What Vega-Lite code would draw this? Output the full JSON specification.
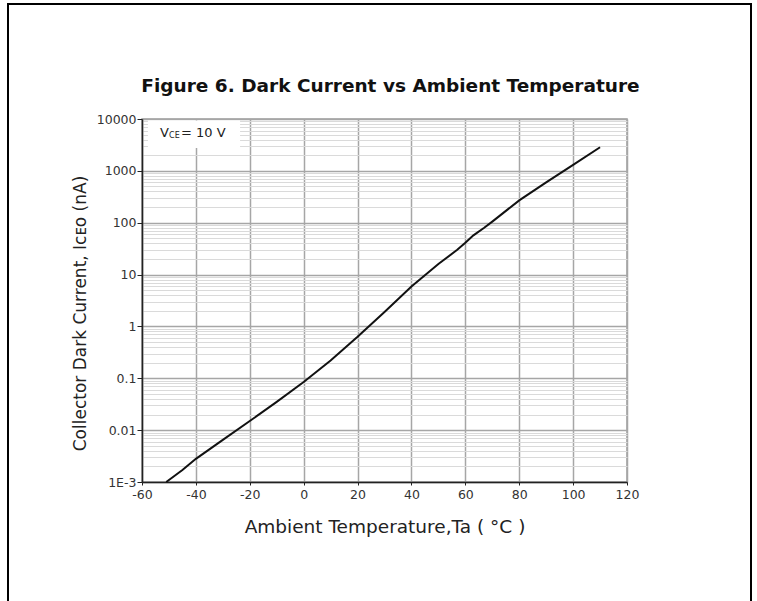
{
  "$schema": "https://vega.github.io/schema/vega-lite/v6.json",
  "autosize": {"type": "none"},
  "padding": {"left": 142, "top": 119, "right": 130, "bottom": 119},
  "width": 485,
  "height": 363,
  "background": "white",
  "title": {
    "text": "Figure 6. Dark Current vs Ambient Temperature",
    "font": "DejaVu Sans",
    "fontSize": 18.5,
    "fontWeight": "bold",
    "color": "#111111",
    "anchor": "middle",
    "frame": "group",
    "baseline": "alphabetic",
    "offset": 0,
    "dy": 107,
    "dx": 6
  },
  "datasets": {
    "curve": [
      {"t": -51, "i": 0.001},
      {"t": -45, "i": 0.0017},
      {"t": -40, "i": 0.0028},
      {"t": -30, "i": 0.0065},
      {"t": -20, "i": 0.015},
      {"t": -10, "i": 0.035},
      {"t": 0, "i": 0.085},
      {"t": 10, "i": 0.22},
      {"t": 20, "i": 0.63},
      {"t": 30, "i": 1.9},
      {"t": 40, "i": 5.9},
      {"t": 50, "i": 16},
      {"t": 57, "i": 30},
      {"t": 60, "i": 41},
      {"t": 63, "i": 57},
      {"t": 67, "i": 80},
      {"t": 70, "i": 105},
      {"t": 80, "i": 270},
      {"t": 90, "i": 600},
      {"t": 100, "i": 1300},
      {"t": 110, "i": 2850}
    ],
    "box": [
      {"t": -57.8, "t2": -23.6, "i": 2750, "i2": 9400}
    ],
    "noteV": [{"t": -53.3, "i": 5300, "label": "V"}],
    "noteCE": [{"t": -53.3, "i": 5300, "label": "CE"}],
    "noteRest": [{"t": -53.3, "i": 5300, "label": "= 10 V"}],
    "frame": [{"f0": 0, "f1": 1}]
  },
  "layer": [
    {
      "data": {"name": "frame"},
      "mark": {"type": "rect", "fill": null, "stroke": "black", "strokeWidth": 2},
      "encoding": {
        "x": {"field": "f0", "type": "quantitative", "scale": {"domain": [0, 1], "range": [-134, 609]}, "axis": null},
        "x2": {"field": "f1"},
        "y": {"field": "f0", "type": "quantitative", "scale": {"domain": [0, 1], "range": [490, -115]}, "axis": null},
        "y2": {"field": "f1"}
      }
    },
    {
      "encoding": {
        "x": {
          "field": "t",
          "type": "quantitative",
          "scale": {"domain": [-60, 120], "nice": false, "zero": false},
          "axis": {
            "values": [-60, -40, -20, 0, 20, 40, 60, 80, 100, 120],
            "labelExpr": "'' + datum.value",
            "grid": true,
            "gridColor": "#a6a6a6",
            "gridWidth": 1.5,
            "domainColor": "#222222",
            "domainWidth": 1.5,
            "tickColor": "#222222",
            "tickSize": 3,
            "labelFlush": false,
            "labelOverlap": false,
            "labelFont": "DejaVu Sans",
            "labelFontSize": 12.5,
            "labelColor": "#333333",
            "labelPadding": 3,
            "title": "Ambient Temperature,Ta ( °C )",
            "titleFont": "DejaVu Sans",
            "titleFontSize": 18.5,
            "titleFontWeight": "normal",
            "titleColor": "#222222",
            "titlePadding": 17
          }
        },
        "y": {
          "field": "i",
          "type": "quantitative",
          "scale": {"type": "log", "domain": [0.001, 10000], "nice": false},
          "axis": {
            "values": [0.001, 0.002, 0.003, 0.004, 0.005, 0.006, 0.007, 0.008, 0.009,
                       0.01, 0.02, 0.03, 0.04, 0.05, 0.06, 0.07, 0.08, 0.09,
                       0.1, 0.2, 0.3, 0.4, 0.5, 0.6, 0.7, 0.8, 0.9,
                       1, 2, 3, 4, 5, 6, 7, 8, 9,
                       10, 20, 30, 40, 50, 60, 70, 80, 90,
                       100, 200, 300, 400, 500, 600, 700, 800, 900,
                       1000, 2000, 3000, 4000, 5000, 6000, 7000, 8000, 9000, 10000],
            "labelExpr": "abs(log(datum.value)/LN10 - round(log(datum.value)/LN10)) < 0.01 ? (datum.value < 0.005 ? '1E-3' : format(datum.value, '~f')) : ''",
            "grid": true,
            "gridColor": {"condition": {"test": "abs(log(datum.value)/LN10 - round(log(datum.value)/LN10)) < 0.01", "value": "#a6a6a6"}, "value": "#dadada"},
            "gridWidth": {"condition": {"test": "abs(log(datum.value)/LN10 - round(log(datum.value)/LN10)) < 0.01", "value": 1.5}, "value": 1.2},
            "tickOpacity": {"condition": {"test": "abs(log(datum.value)/LN10 - round(log(datum.value)/LN10)) < 0.01", "value": 1}, "value": 0},
            "domainColor": "#222222",
            "domainWidth": 1.5,
            "tickColor": "#222222",
            "tickSize": 5,
            "labelFlush": false,
            "labelOverlap": false,
            "labelFont": "DejaVu Sans",
            "labelFontSize": 12.5,
            "labelColor": "#333333",
            "labelPadding": 1,
            "title": "Collector Dark Current, Iᴄᴇᴏ (nA)",
            "titleFont": "DejaVu Sans",
            "titleFontSize": 17,
            "titleFontWeight": "normal",
            "titleColor": "#222222",
            "titlePadding": 7,
            "titleY": 194
          }
        }
      },
      "layer": [
        {
          "data": {"name": "box"},
          "mark": {"type": "rect", "fill": "white", "stroke": null},
          "encoding": {"x2": {"field": "t2"}, "y2": {"field": "i2"}}
        },
        {
          "data": {"name": "curve"},
          "mark": {"type": "line", "color": "#111111", "strokeWidth": 2}
        },
        {
          "data": {"name": "noteV"},
          "mark": {"type": "text", "font": "DejaVu Sans", "fontSize": 13, "color": "#222222", "align": "left", "baseline": "middle"},
          "encoding": {"text": {"field": "label"}}
        },
        {
          "data": {"name": "noteCE"},
          "mark": {"type": "text", "font": "DejaVu Sans", "fontSize": 8, "color": "#222222", "align": "left", "baseline": "middle", "dx": 9, "dy": 3},
          "encoding": {"text": {"field": "label"}}
        },
        {
          "data": {"name": "noteRest"},
          "mark": {"type": "text", "font": "DejaVu Sans", "fontSize": 13, "color": "#222222", "align": "left", "baseline": "middle", "dx": 21},
          "encoding": {"text": {"field": "label"}}
        }
      ]
    }
  ],
  "resolve": {"scale": {"x": "independent", "y": "independent"}},
  "config": {
    "view": {"stroke": "#9a9a9a", "strokeWidth": 1.5},
    "font": "DejaVu Sans"
  }
}
